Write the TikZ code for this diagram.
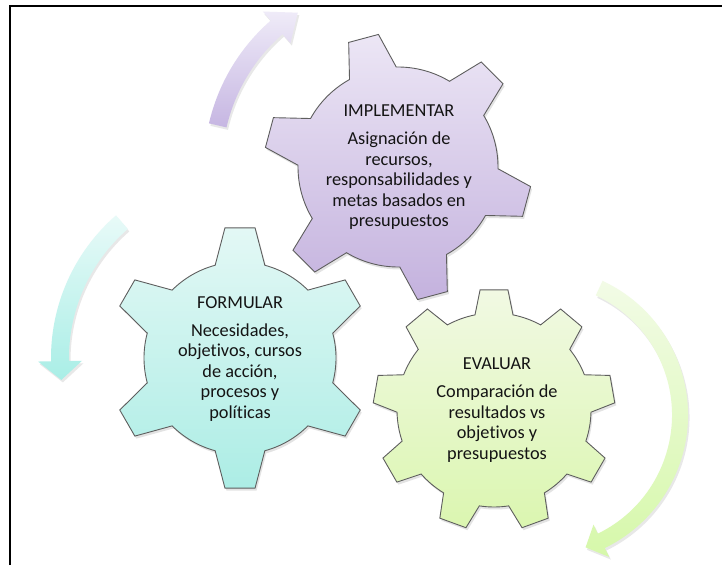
\documentclass[tikz,border=0pt]{standalone}
\usepackage{fontspec}
\setmainfont{Carlito}[Ligatures={NoCommon}]
\usetikzlibrary{shadows}
\definecolor{purT}{HTML}{ECE6F5}
\definecolor{purB}{HTML}{C4B2DE}
\definecolor{purAT}{HTML}{EFEBF8}
\definecolor{purAB}{HTML}{C6B6E2}
\definecolor{teaT}{HTML}{E3F8F5}
\definecolor{teaB}{HTML}{ACEDE5}
\definecolor{teaAT}{HTML}{E8FAF8}
\definecolor{teaAB}{HTML}{A9EEE6}
\definecolor{greT}{HTML}{F1F9E3}
\definecolor{greB}{HTML}{DBF6B0}
\definecolor{greAT}{HTML}{F2FBE6}
\definecolor{greAB}{HTML}{D6F8AA}
\definecolor{gearedge}{HTML}{5E5E5E}
% #1 centre, #2 number of teeth, #3 last index, #4 first tooth angle,
% #5 tip radius, #6 root radius, #7 tip half angle, #8 base half angle, #9 style
\newcommand{\mygear}[9]{%
  \begin{scope}[shift={(#1)}]
  \draw[#9] ({#4-#8}:#6)
    \foreach \k [evaluate=\k as \a using {#4+\k*360/#2}] in {0,...,#3} {
      -- ({\a-#8}:#6) -- ({\a-#7}:#5) -- ({\a+#7}:#5) -- ({\a+#8}:#6)
      arc[start angle={\a+#8}, end angle={\a+360/#2-#8}, radius=#6]
    } -- cycle;
  \end{scope}}
\tikzset{
  gearline/.style={draw=gearedge, line width=0.9pt, line join=miter,
    drop shadow={opacity=0.22, shadow xshift=1.5pt, shadow yshift=-2.5pt}},
  arrowshape/.style={draw=none,
    drop shadow={opacity=0.18, shadow xshift=1.5pt, shadow yshift=-2.5pt}},
  gtext/.style={align=center, font=\fontsize{18.3}{20.5}\selectfont, text=black!92, inner sep=0pt}
}
\begin{document}
\begin{tikzpicture}[x=1pt,y=1pt]
\useasboundingbox (0,0) rectangle (722,565);
\fill[white] (0,0) rectangle (722,565);

% frame
\coordinate (fbl) at (9.5,0);
\coordinate (ftl) at (9.5,559);
\coordinate (ftr) at (722,559);
\draw[line width=2pt] (fbl) -- (ftl) -- (ftr);

% purple arrow (top left)
\begin{scope}[shift={(398,398)}]
\path[arrowshape, top color=purAT, bottom color=purAB]
  (167:194) arc[start angle=167, end angle=131, radius=194]
  -- (131:206) -- (123:184) -- (131:164) -- (131:176)
  arc[start angle=131, end angle=167, radius=176] -- cycle;
\end{scope}

% teal arrow (left)
\begin{scope}[shift={(240,207)}]
\path[arrowshape, top color=teaAT, bottom color=teaAB]
  (131:189) arc[start angle=131, end angle=181, radius=189]
  -- (181:202) -- (187:180) -- (181:158) -- (181:171)
  arc[start angle=181, end angle=131, radius=171] -- cycle;
\end{scope}

% green arrow (right)
\begin{scope}[shift={(540,150)}]
\path[arrowshape, top color=greAT, bottom color=greAB]
  (65:148) arc[start angle=65, end angle=-64, radius=148]
  -- (-64:158) -- (-71:140) -- (-64:122) -- (-64:132)
  arc[start angle=-64, end angle=65, radius=132] -- cycle;
\end{scope}

% gears
\mygear{398,398}{6}{5}{105}{134}{100}{6.6}{14}{gearline, top color=purT, bottom color=purB}
\mygear{240,207}{6}{5}{90}{131}{96}{6.6}{15}{gearline, top color=teaT, bottom color=teaB}
\mygear{494,155}{9}{8}{90}{121}{97}{6.6}{11.3}{gearline, top color=greT, bottom color=greB}

% texts
\node[gtext] (impl) at (399,397.5) {IMPLEMENTAR\\[7.5pt]Asignación de\\recursos,\\responsabilidades y\\metas basados en\\presupuestos};
\node[gtext] (form) at (240,206) {FORMULAR\\[7.5pt]Necesidades,\\objetivos, cursos\\de acción,\\procesos y\\políticas};
\node[gtext] (eval) at (497,155) {EVALUAR\\[7.5pt]Comparación de\\resultados vs\\objetivos y\\presupuestos};
\end{tikzpicture}
\end{document}
